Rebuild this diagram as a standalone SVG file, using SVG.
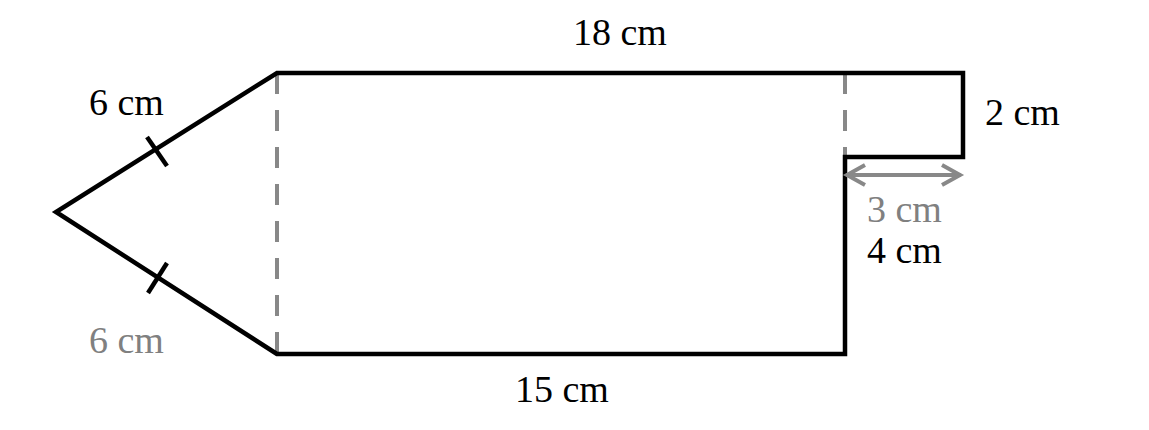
<svg xmlns="http://www.w3.org/2000/svg" width="1149" height="430" viewBox="0 0 1149 430">
<style>
.t{font-family:"Liberation Serif","Times New Roman",serif;font-size:38px;fill:#000}
.g{fill:#808080}
.edge{fill:none;stroke:#000;stroke-width:4.5;stroke-linejoin:miter;stroke-linecap:butt}
.dash{fill:none;stroke:#888;stroke-width:4;stroke-dasharray:21 16}
.arr{fill:none;stroke:#888;stroke-width:4;stroke-linecap:butt;stroke-linejoin:miter}
</style>
<rect width="1149" height="430" fill="#fff"/>
<g id="connectors">
<line class="dash" x1="277" y1="73" x2="277" y2="354"/>
<line class="dash" x1="845" y1="73" x2="845" y2="157"/>
</g>
<g id="shape">
<path class="edge" d="M277,354 L56,212 L277,73 L963,73 L963,157 L845,157 L845,354 Z"/>
<line class="edge" x1="147" y1="137" x2="167" y2="166"/>
<line class="edge" x1="167" y1="263" x2="148" y2="293"/>
</g>
<g id="arrow">
<line class="arr" x1="846" y1="175" x2="961" y2="175"/>
<polyline class="arr" points="865,165 847,175 865,185"/>
<polyline class="arr" points="942,165 960,175 942,185"/>
</g>
<g id="labels">
<text class="t" x="573" y="45">18 cm</text>
<text class="t" x="515" y="402">15 cm</text>
<text class="t" x="89" y="115">6 cm</text>
<text class="t g" x="89" y="353">6 cm</text>
<text class="t" x="985" y="125">2 cm</text>
<text class="t g" x="867" y="222">3 cm</text>
<text class="t" x="867" y="263">4 cm</text>
</g>
</svg>
